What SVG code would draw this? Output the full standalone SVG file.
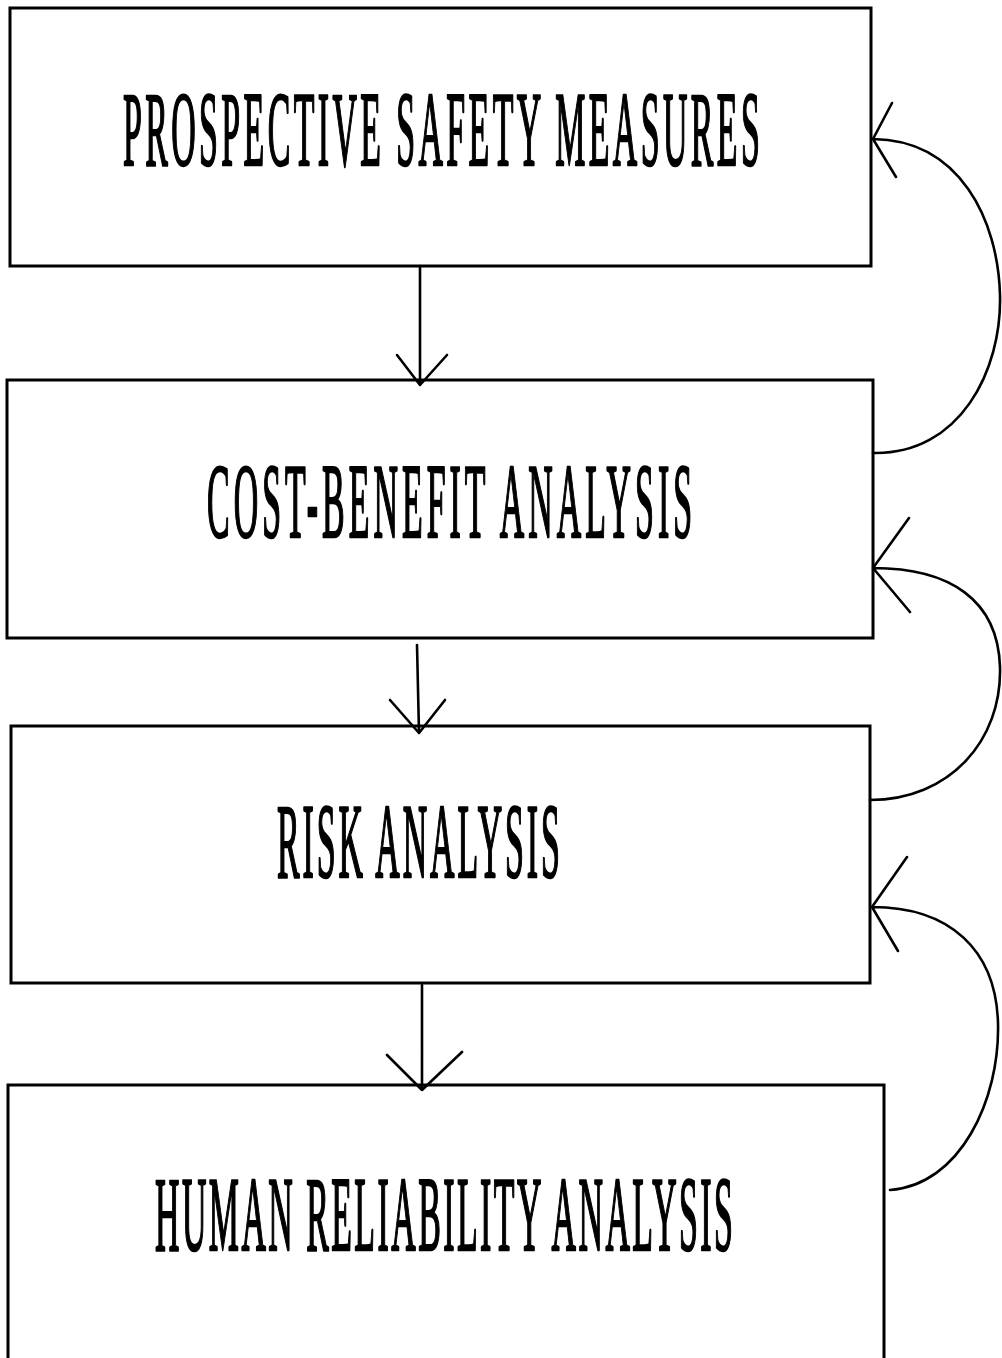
<svg xmlns="http://www.w3.org/2000/svg" width="1002" height="1358" viewBox="0 0 1002 1358">
  <style>
    .box { fill: #ffffff; stroke: #000000; stroke-width: 3; }
    .label { font-family: "Liberation Serif", "DejaVu Serif", serif; font-size: 106px; font-weight: normal; fill: #000000; stroke: #000000; stroke-width: 2.6; stroke-linejoin: round; }
    .link { fill: none; stroke: #000000; stroke-width: 2.6; stroke-linecap: round; stroke-linejoin: round; }
  </style>
  <rect width="1002" height="1358" fill="#ffffff"/>

  <g id="node-prospective">
    <rect class="box" x="10" y="8" width="861" height="258"/>
    <text class="label" transform="translate(123 165) scale(0.32 1)" x="0" y="0" textLength="1990" lengthAdjust="spacing">PROSPECTIVE SAFETY MEASURES</text>
  </g>

  <g id="node-costbenefit">
    <rect class="box" x="7" y="380" width="866" height="258"/>
    <text class="label" transform="translate(207 537) scale(0.32 1)" x="0" y="0" textLength="1516" lengthAdjust="spacing">COST-BENEFIT ANALYSIS</text>
  </g>

  <g id="node-risk">
    <rect class="box" x="11" y="726" width="859" height="257"/>
    <text class="label" transform="translate(277 877) scale(0.32 1)" x="0" y="0" textLength="884" lengthAdjust="spacing">RISK ANALYSIS</text>
  </g>

  <g id="node-human">
    <rect class="box" x="8" y="1085" width="876" height="300"/>
    <text class="label" transform="translate(155 1250) scale(0.32 1)" x="0" y="0" textLength="1806" lengthAdjust="spacing">HUMAN RELIABILITY ANALYSIS</text>
  </g>

  <g id="connectors">
    <!-- downward flow -->
    <path class="link" d="M420 266 L420 385 M397 355 L420 385 L447 355"/>
    <path class="link" d="M417 645 L419 733 M390 700 L419 733 L445 700"/>
    <path class="link" d="M422 985 L422 1090 M387 1055 L422 1090 L462 1052"/>

    <!-- feedback loops on the right -->
    <path class="link" d="M873 453 C 960 455, 1002 370, 1000 295 C 998 220, 960 140, 873 139 M892 103 L873 139 L896 177"/>
    <path class="link" d="M870 800 C 950 800, 1002 740, 1000 667 C 998 600, 950 568, 873 568 M909 518 L873 568 L910 612"/>
    <path class="link" d="M890 1190 C 960 1185, 1000 1100, 998 1023 C 996 950, 950 907, 872 907 M907 857 L872 907 L898 951"/>
  </g>
</svg>
